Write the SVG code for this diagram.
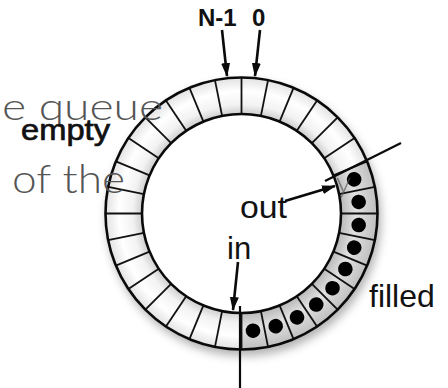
<svg xmlns="http://www.w3.org/2000/svg" xmlns:xlink="http://www.w3.org/1999/xlink" width="448" height="388" viewBox="0 0 448 388">
<style>
.lbl{font-family:"Liberation Sans",Arial,sans-serif;fill:#111;}
.bg{font-family:Lato,"Noto Sans",sans-serif;font-weight:300;fill:#555;}
.div{stroke:#111;stroke-width:1.8;}
.edge{fill:none;stroke:#0a0a0a;stroke-width:2.6;}
.arr{stroke:#0a0a0a;stroke-width:2.6;fill:none;}
.mk{stroke:#0a0a0a;stroke-width:2.2;fill:none;}
</style>
<defs>
<radialGradient id="gEmpty" gradientUnits="userSpaceOnUse" cx="241.5" cy="213.5" r="136">
<stop offset="0.73" stop-color="#cdcdcd"/>
<stop offset="0.80" stop-color="#f2f2f2"/>
<stop offset="0.90" stop-color="#ffffff"/>
<stop offset="1" stop-color="#e2e2e2"/>
</radialGradient>
<radialGradient id="gFill" gradientUnits="userSpaceOnUse" cx="241.5" cy="213.5" r="136">
<stop offset="0.73" stop-color="#b8b8b8"/>
<stop offset="0.84" stop-color="#e2e2e2"/>
<stop offset="1" stop-color="#bfbfbf"/>
</radialGradient>
<filter id="blur" x="-20%" y="-20%" width="140%" height="140%">
<feGaussianBlur stdDeviation="5"/>
</filter>
<marker id="ah" markerUnits="userSpaceOnUse" markerWidth="14" markerHeight="10" refX="13" refY="5" orient="auto">
<path d="M0,0.5 L14,5 L0,9.5 z" fill="#0a0a0a"/>
</marker>
<line id="dv" class="div" x1="241.5" y1="114" x2="241.5" y2="77.5"/>
<circle id="dot" cx="241.5" cy="95.75" r="7.3" fill="#000"/>
</defs>

<g id="ring">
<circle cx="244" cy="219" r="118" fill="none" stroke="#000" stroke-opacity="0.3" stroke-width="38" filter="url(#blur)"/>
<path d="M105.5,213.5 A136,136 0 1 0 377.5,213.5 A136,136 0 1 0 105.5,213.5 Z M142,213.5 A99.5,99.5 0 1 1 341,213.5 A99.5,99.5 0 1 1 142,213.5 Z" fill="url(#gEmpty)" fill-rule="evenodd"/>
<path d="M367.15,161.46 A136,136 0 0 1 241.5,349.5 L241.5,313 A99.5,99.5 0 0 0 333.43,175.42 Z" fill="url(#gFill)"/>
<circle cx="241.5" cy="213.5" r="99.5" fill="#fff"/>
<g id="dividers">
<use xlink:href="#dv"/>
<use xlink:href="#dv" transform="rotate(11.25 241.5 213.5)"/>
<use xlink:href="#dv" transform="rotate(22.5 241.5 213.5)"/>
<use xlink:href="#dv" transform="rotate(33.75 241.5 213.5)"/>
<use xlink:href="#dv" transform="rotate(45 241.5 213.5)"/>
<use xlink:href="#dv" transform="rotate(56.25 241.5 213.5)"/>
<use xlink:href="#dv" transform="rotate(67.5 241.5 213.5)"/>
<use xlink:href="#dv" transform="rotate(78.75 241.5 213.5)"/>
<use xlink:href="#dv" transform="rotate(90 241.5 213.5)"/>
<use xlink:href="#dv" transform="rotate(101.25 241.5 213.5)"/>
<use xlink:href="#dv" transform="rotate(112.5 241.5 213.5)"/>
<use xlink:href="#dv" transform="rotate(123.75 241.5 213.5)"/>
<use xlink:href="#dv" transform="rotate(135 241.5 213.5)"/>
<use xlink:href="#dv" transform="rotate(146.25 241.5 213.5)"/>
<use xlink:href="#dv" transform="rotate(157.5 241.5 213.5)"/>
<use xlink:href="#dv" transform="rotate(168.75 241.5 213.5)"/>
<use xlink:href="#dv" transform="rotate(180 241.5 213.5)"/>
<use xlink:href="#dv" transform="rotate(191.25 241.5 213.5)"/>
<use xlink:href="#dv" transform="rotate(202.5 241.5 213.5)"/>
<use xlink:href="#dv" transform="rotate(213.75 241.5 213.5)"/>
<use xlink:href="#dv" transform="rotate(225 241.5 213.5)"/>
<use xlink:href="#dv" transform="rotate(236.25 241.5 213.5)"/>
<use xlink:href="#dv" transform="rotate(247.5 241.5 213.5)"/>
<use xlink:href="#dv" transform="rotate(258.75 241.5 213.5)"/>
<use xlink:href="#dv" transform="rotate(270 241.5 213.5)"/>
<use xlink:href="#dv" transform="rotate(281.25 241.5 213.5)"/>
<use xlink:href="#dv" transform="rotate(292.5 241.5 213.5)"/>
<use xlink:href="#dv" transform="rotate(303.75 241.5 213.5)"/>
<use xlink:href="#dv" transform="rotate(315 241.5 213.5)"/>
<use xlink:href="#dv" transform="rotate(326.25 241.5 213.5)"/>
<use xlink:href="#dv" transform="rotate(337.5 241.5 213.5)"/>
<use xlink:href="#dv" transform="rotate(348.75 241.5 213.5)"/>
</g>
<g id="dots">
<use xlink:href="#dot" transform="rotate(73.125 241.5 213.5)"/>
<use xlink:href="#dot" transform="rotate(84.375 241.5 213.5)"/>
<use xlink:href="#dot" transform="rotate(95.625 241.5 213.5)"/>
<use xlink:href="#dot" transform="rotate(106.875 241.5 213.5)"/>
<use xlink:href="#dot" transform="rotate(118.125 241.5 213.5)"/>
<use xlink:href="#dot" transform="rotate(129.375 241.5 213.5)"/>
<use xlink:href="#dot" transform="rotate(140.625 241.5 213.5)"/>
<use xlink:href="#dot" transform="rotate(151.875 241.5 213.5)"/>
<use xlink:href="#dot" transform="rotate(163.125 241.5 213.5)"/>
<use xlink:href="#dot" transform="rotate(174.375 241.5 213.5)"/>
</g>
<circle class="edge" cx="241.5" cy="213.5" r="136"/>
<circle class="edge" cx="241.5" cy="213.5" r="99.5"/>
</g>

<g id="background-text">
<text class="bg" x="2" y="120" font-size="38" textLength="161" lengthAdjust="spacingAndGlyphs">e queue</text>
<text class="bg" x="12" y="193" font-size="39" textLength="113" lengthAdjust="spacingAndGlyphs">of the</text>
<text class="bg" x="336" y="193" font-size="30" opacity="0.7">y</text>
</g>

<g id="connectors">
<line class="arr" x1="222" y1="30" x2="227" y2="76" marker-end="url(#ah)"/>
<line class="arr" x1="260" y1="30" x2="255" y2="76" marker-end="url(#ah)"/>
<line class="arr" x1="285" y1="201" x2="335" y2="186" marker-end="url(#ah)"/>
<line class="arr" x1="238" y1="262" x2="233" y2="310" marker-end="url(#ah)"/>
<line class="mk" x1="325" y1="181" x2="401" y2="143"/>
<line class="mk" x1="240" y1="306" x2="240" y2="388"/>
</g>

<g id="label-n1"><text class="lbl" x="198" y="26" font-size="24" font-weight="bold">N-1</text></g>
<g id="label-0"><text class="lbl" x="252" y="26" font-size="24" font-weight="bold">0</text></g>
<g id="label-empty"><text class="lbl" x="21" y="140" font-size="30" stroke="#111" stroke-width="0.7" textLength="89" lengthAdjust="spacingAndGlyphs">empty</text></g>
<g id="label-out"><text class="lbl" x="240" y="218" font-size="31" textLength="47" lengthAdjust="spacingAndGlyphs">out</text></g>
<g id="label-in"><text class="lbl" x="227" y="259" font-size="31">in</text></g>
<g id="label-filled"><text class="lbl" x="369" y="307" font-size="32">filled</text></g>
</svg>
